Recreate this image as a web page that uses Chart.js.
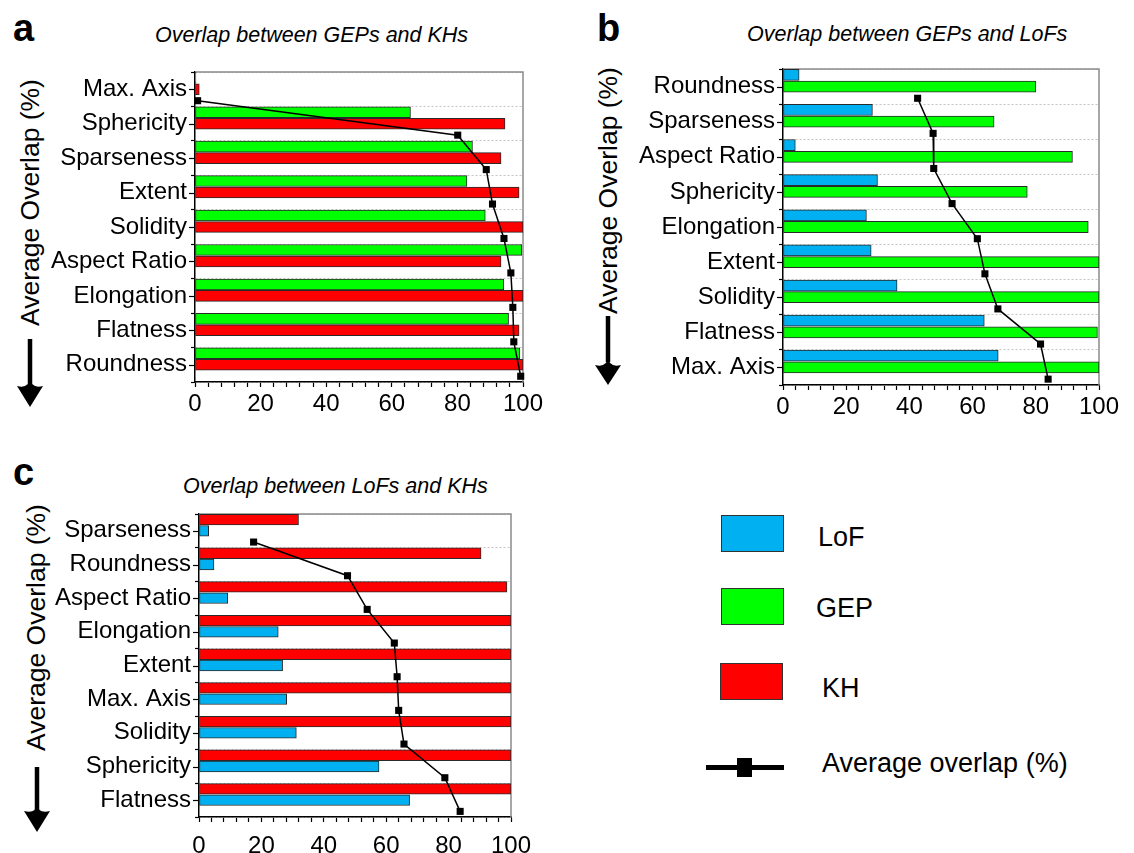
<!DOCTYPE html>
<html><head><meta charset="utf-8">
<script src="https://cdn.jsdelivr.net/npm/chart.js@4.4.0/dist/chart.umd.min.js"></script>
<style>
body{margin:0;width:1134px;height:853px;background:#fff;position:relative;overflow:hidden;font-family:'Liberation Sans',Arial,Helvetica,sans-serif;color:#000;}
.abs{position:absolute;white-space:nowrap;}
canvas{position:absolute;}
.letter{font-weight:bold;font-size:38px;line-height:40px;}
.title{font-style:italic;font-size:21.5px;line-height:24px;}
.ytitle{font-size:26.5px;line-height:30px;transform-origin:0 0;transform:rotate(-90deg);}
.box{position:absolute;border:1px solid #333;box-sizing:border-box;}
.leg{font-size:27px;line-height:30px;}
</style>
</head><body>
<div class="abs letter" style="left:13px;top:8px;">a</div>
<div class="abs letter" style="left:597px;top:8px;">b</div>
<div class="abs letter" style="left:13px;top:452px;">c</div>
<div class="abs title" style="left:155px;top:23px;">Overlap between GEPs and KHs</div>
<div class="abs title" style="left:747px;top:22px;">Overlap between GEPs and LoFs</div>
<div class="abs title" style="left:183px;top:474px;">Overlap between LoFs and KHs</div>
<div class="abs ytitle" style="left:15px;top:326px;">Average Overlap (%)</div>
<div class="abs ytitle" style="left:593px;top:314px;">Average Overlap (%)</div>
<div class="abs ytitle" style="left:21px;top:751px;">Average Overlap (%)</div>
<svg class="abs" style="left:0;top:0" width="1134" height="853">
  <g fill="#000" stroke="#000">
    <line x1="30" y1="339" x2="30" y2="384" stroke-width="4.5"/>
    <path d="M30,378 Q31,389 43,386 L30,407 L17,386 Q29,389 30,378 Z" stroke="none"/>
    <line x1="608" y1="316" x2="608" y2="362" stroke-width="4.5"/>
    <path d="M608,357 Q609,368 621,365 L608,385 L595,365 Q607,368 608,357 Z" stroke="none"/>
    <line x1="37" y1="767" x2="37" y2="810" stroke-width="4.5"/>
    <path d="M37,804 Q38,814 50,811 L37,832 L24,811 Q36,814 37,804 Z" stroke="none"/>
  </g>
</svg>
<div class="box" style="left:721px;top:515px;width:63px;height:37px;background:#00B0F0;"></div>
<div class="box" style="left:721px;top:588px;width:63px;height:37px;background:#00FF00;"></div>
<div class="box" style="left:720px;top:663px;width:63px;height:37px;background:#FF0000;"></div>
<div class="abs leg" style="left:818px;top:522px;">LoF</div>
<div class="abs leg" style="left:816px;top:593px;">GEP</div>
<div class="abs leg" style="left:822px;top:673px;">KH</div>
<div class="abs" style="left:706px;top:765px;width:78px;height:5px;background:#000;"></div>
<div class="abs" style="left:737px;top:758px;width:15px;height:19px;background:#000;"></div>
<div class="abs leg" style="left:822px;top:748px;">Average overlap (%)</div>

<canvas id="ca" width="560" height="420" style="left:0;top:0;width:560px;height:420px;"></canvas>
<canvas id="cb" width="554" height="430" style="left:580px;top:0;width:554px;height:430px;"></canvas>
<canvas id="cc" width="560" height="413" style="left:0;top:440px;width:560px;height:413px;"></canvas>
<script>
// ---- data ----
const catsA = ['Max. Axis','Sphericity','Sparseness','Extent','Solidity','Aspect Ratio','Elongation','Flatness','Roundness'];
const gepA  = [0.3, 65.7, 84.6, 82.9, 88.5, 99.6, 94.1, 95.6, 99.0];
const khA   = [1.3, 94.5, 93.3, 98.8, 100, 93.3, 100, 98.8, 100];
const avgA  = [0.8, 80.1, 88.8, 90.7, 94.2, 96.3, 96.9, 97.2, 99.3];

const catsB = ['Roundness','Sparseness','Aspect Ratio','Sphericity','Elongation','Extent','Solidity','Flatness','Max. Axis'];
const lofB  = [5.1, 28.3, 3.9, 29.9, 26.4, 27.9, 36.1, 63.7, 68.1];
const gepB  = [80.0, 66.8, 91.6, 77.3, 96.6, 100, 100, 99.5, 100];
const avgB  = [42.6, 47.5, 47.7, 53.5, 61.5, 63.9, 68.0, 81.5, 83.9];

const catsC = ['Sparseness','Roundness','Aspect Ratio','Elongation','Extent','Max. Axis','Solidity','Sphericity','Flatness'];
const khC   = [31.9, 90.4, 98.7, 100, 100, 100, 100, 100, 100];
const lofC  = [3.1, 4.8, 9.2, 25.4, 26.8, 28.1, 31.2, 57.7, 67.5];
const avgC  = [17.5, 47.6, 53.9, 62.6, 63.5, 64.0, 65.7, 78.8, 83.7];

const xTickLabels = [0, 20, 40, 60, 80, 100];

const COL = {LoF:'#00B0F0', GEP:'#00FF00', KH:'#FF0000'};
const FONT = "'Liberation Sans', Arial, Helvetica, sans-serif";

const framePlugin = {
  id:'frame',
  beforeDatasetsDraw(chart){
    const {ctx, chartArea:a} = chart;
    ctx.save();
    ctx.strokeStyle='#8a8a8a'; ctx.lineWidth=1.5;
    ctx.beginPath(); ctx.moveTo(a.left,a.top); ctx.lineTo(a.right,a.top); ctx.lineTo(a.right,a.bottom); ctx.stroke();
    ctx.restore();
  },
  afterDraw(chart){
    const {ctx, chartArea:a, scales} = chart;
    const y = scales.y;
    ctx.save();
    ctx.strokeStyle='#000'; ctx.lineWidth=1.2;
    y.ticks.forEach((t,i)=>{
      const p = Math.round(y.getPixelForTick(i))+0.5;
      ctx.beginPath(); ctx.moveTo(a.left-6,p); ctx.lineTo(a.left,p); ctx.stroke();
    });
    ctx.restore();
  }
};

// slot offsets inside each category band (fraction of band): bar1, bar2, average marker
const SLOT1 = 1/6, SLOT2 = 1/2, SLOT3 = 5/6;
const bandAxis = (n, frac) => ({type:'linear', axis:'y', position:'left', display:false, reverse:true,
                                offset:false, grace:0, bounds:'data', min: -frac, max: n - frac,
                                grid:{offset:false}});

function makeChart(id, cats, s1, s2, avg, geo){
  const n = cats.length;
  const toPts = (arr) => arr.map((v,i)=>({x:v, y:i}));
  const bar = (label, data, axisId) => ({
    type:'bar', label, data: toPts(data), backgroundColor: COL[label], borderColor:'#2a2a2a', borderWidth:1,
    borderSkipped:false, xAxisID:'x', yAxisID:axisId, order:1, grouped:false,
    barThickness: geo.bar
  });
  new Chart(document.getElementById(id), {
    data:{
      labels: cats,
      datasets:[
        bar(s1.label, s1.data, 'yb1'),
        bar(s2.label, s2.data, 'yb2'),
        {type:'line', label:'Average overlap (%)', data: toPts(avg),
         xAxisID:'x', yAxisID:'yl', order:0, borderColor:'#000', borderWidth:1.5, tension:0,
         pointStyle:'rect', pointRadius:5, pointBackgroundColor:'#000', pointBorderColor:'#000', pointBorderWidth:0,
         clip:false, fill:false}
      ]
    },
    options:{
      indexAxis:'y', responsive:false, animation:false, events:[],
      layout:{padding:{left:0, top:geo.top, right:geo.right, bottom:geo.bottom}},
      plugins:{legend:{display:false}, tooltip:{enabled:false}},
      scales:{
        x:{type:'linear', axis:'x', position:'bottom', min:0, max:100, offset:false,
           ticks:{stepSize:4, autoSkip:false, maxRotation:0, color:'#000', padding:geo.xpad,
                  font:{family:FONT, size:24},
                  callback:(v)=> xTickLabels.includes(v) ? String(v) : ''},
           grid:{drawOnChartArea:false, drawTicks:true, tickLength:5, tickColor:'#000', tickWidth:1.2},
           border:{color:'#000', width:1.5},
           afterFit:(s)=>{ s.height = geo.xh; }},
        y:{type:'category', axis:'y', position:'left', offset:true,
           ticks:{color:'#000', padding:4, font:{family:FONT, size:24}},
           grid:{offset:true, color:'#c4c4c4', lineWidth:1, drawTicks:true, tickLength:4, tickColor:'#000', tickWidth:1.2},
           border:{color:'#000', width:1.5, dash:[2,2]},
           afterFit:(s)=>{ s.width = geo.yw; }},
        yb1: bandAxis(n, SLOT1),
        yb2: bandAxis(n, SLOT2),
        yl:  bandAxis(n, SLOT3)
      }
    },
    plugins:[framePlugin]
  });
}

makeChart('ca', catsA, {label:'GEP', data:gepA}, {label:'KH', data:khA}, avgA, {top:72, right:37, bottom:8, yw:195, xh:30, xpad:3, bar:10.9});
makeChart('cb', catsB, {label:'LoF', data:lofB}, {label:'GEP', data:gepB}, avgB, {top:69, right:35, bottom:15, yw:203, xh:30, xpad:3, bar:11.1});
makeChart('cc', catsC, {label:'KH', data:khC}, {label:'LoF', data:lofC}, avgC, {top:74, right:49, bottom:0, yw:199, xh:36, xpad:10, bar:10.7});
</script>
</body></html>
